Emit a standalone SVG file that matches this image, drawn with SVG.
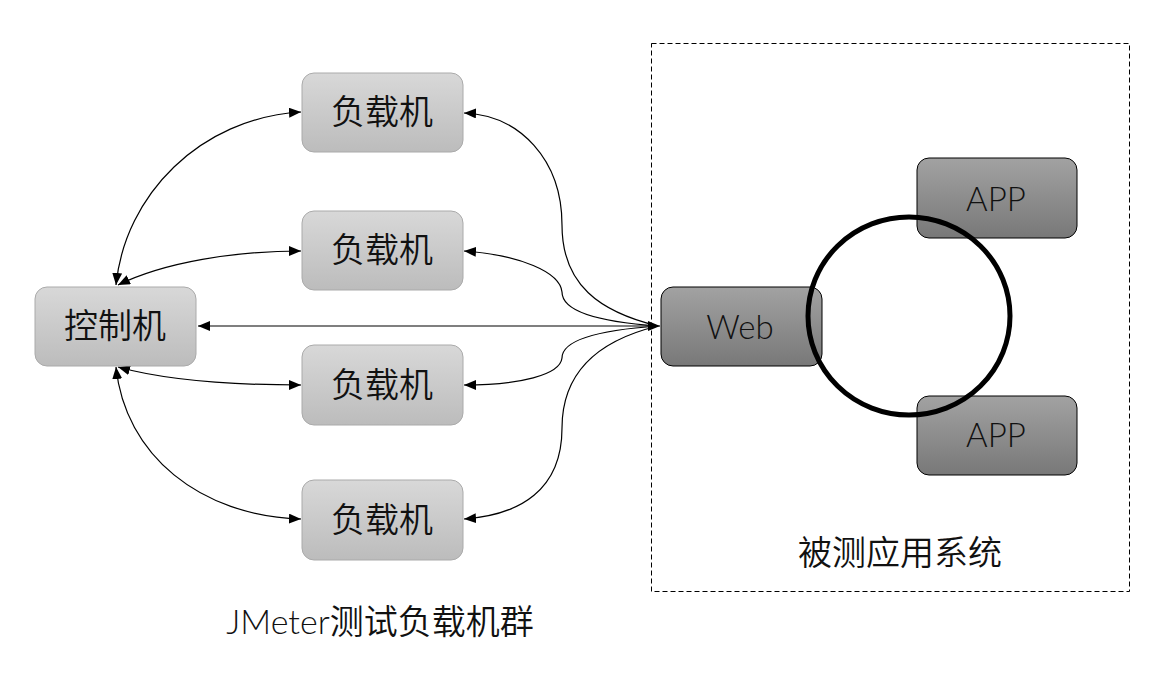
<svg xmlns="http://www.w3.org/2000/svg" width="1175" height="678" viewBox="0 0 1175 678">
<defs>
<linearGradient id="gLight" x1="0" y1="0" x2="0" y2="1">
<stop offset="0" stop-color="#d8d8d8"/>
<stop offset="1" stop-color="#bcbcbc"/>
</linearGradient>
<linearGradient id="gDark" x1="0" y1="0" x2="0" y2="1">
<stop offset="0" stop-color="#a2a2a2"/>
<stop offset="1" stop-color="#787878"/>
</linearGradient>
<marker id="arr" markerUnits="userSpaceOnUse" markerWidth="14" markerHeight="12" refX="12" refY="5" orient="auto-start-reverse">
<path d="M0,0 L12,5 L0,10 z" fill="#000"/>
</marker>
<style>
.light{fill:url(#gLight);stroke:#aaaaaa;stroke-width:1}
.dark{fill:url(#gDark);stroke:#000;stroke-width:1}
.cjk{font-family:"Noto Sans CJK SC",sans-serif;font-weight:350;font-size:34px;fill:#111;text-anchor:middle}
.lat{font-family:Lato,"Open Sans",sans-serif;font-weight:300;font-size:33px;fill:#111;text-anchor:middle}
.con{fill:none;stroke:#000;stroke-width:1.2}
</style>
</defs>
<rect width="1175" height="678" fill="#fff"/>
<rect id="system-boundary" x="651.5" y="43.5" width="478" height="548" fill="none" stroke="#000" stroke-width="1" stroke-dasharray="5,3"/>
<g id="connectors">
<line class="con" x1="198" y1="326" x2="660" y2="326" marker-start="url(#arr)" marker-end="url(#arr)"/>
<path class="con" d="M116,285 C125,195 200,118 301,112" marker-start="url(#arr)" marker-end="url(#arr)"/>
<path class="con" d="M118,285 C165,262 235,251 301,251" marker-start="url(#arr)" marker-end="url(#arr)"/>
<path class="con" d="M118,367 C165,380 235,385 301,385" marker-start="url(#arr)" marker-end="url(#arr)"/>
<path class="con" d="M116,367 C125,455 200,516 301,519" marker-start="url(#arr)" marker-end="url(#arr)"/>
<path class="con" d="M658,326 C600,312 562,285 562,225 C562,160 520,115 464,113" marker-end="url(#arr)"/>
<path class="con" d="M658,326 C600,322 562,312 562,292 C560,272 520,255 464,251" marker-end="url(#arr)"/>
<path class="con" d="M658,326 C600,330 562,340 562,358 C560,375 520,385 464,385" marker-end="url(#arr)"/>
<path class="con" d="M658,326 C600,340 562,370 562,428 C562,490 520,515 464,519" marker-end="url(#arr)"/>
</g>
<g id="controller">
<rect class="light" x="35" y="287" width="161" height="79" rx="12"/>
<text class="cjk" x="115" y="338">控制机</text>
</g>
<g id="load1">
<rect class="light" x="302" y="73" width="161" height="79" rx="12"/>
<text class="cjk" x="382" y="124">负载机</text>
</g>
<g id="load2">
<rect class="light" x="302" y="211" width="161" height="79" rx="12"/>
<text class="cjk" x="382" y="262">负载机</text>
</g>
<g id="load3">
<rect class="light" x="302" y="345" width="161" height="80" rx="12"/>
<text class="cjk" x="382" y="397">负载机</text>
</g>
<g id="load4">
<rect class="light" x="302" y="480" width="161" height="80" rx="12"/>
<text class="cjk" x="382" y="532">负载机</text>
</g>
<g id="web">
<rect class="dark" x="661" y="287" width="161" height="79" rx="12"/>
<text class="lat" x="740" y="339">Web</text>
</g>
<g id="app1">
<rect class="dark" x="917" y="158" width="160" height="80" rx="12"/>
<text class="lat" x="996" y="211">APP</text>
</g>
<g id="app2">
<rect class="dark" x="917" y="396" width="160" height="79" rx="12"/>
<text class="lat" x="996" y="447">APP</text>
</g>
<ellipse id="ring" cx="909" cy="316" rx="101" ry="99" fill="none" stroke="#000" stroke-width="5"/>
<text id="label-system" class="cjk" x="900" y="565">被测应用系统</text>
<text id="label-cluster" class="cjk" x="380" y="634"><tspan style="font-family:Lato,'Open Sans',sans-serif;font-weight:300">JMeter</tspan>测试负载机群</text>
</svg>
